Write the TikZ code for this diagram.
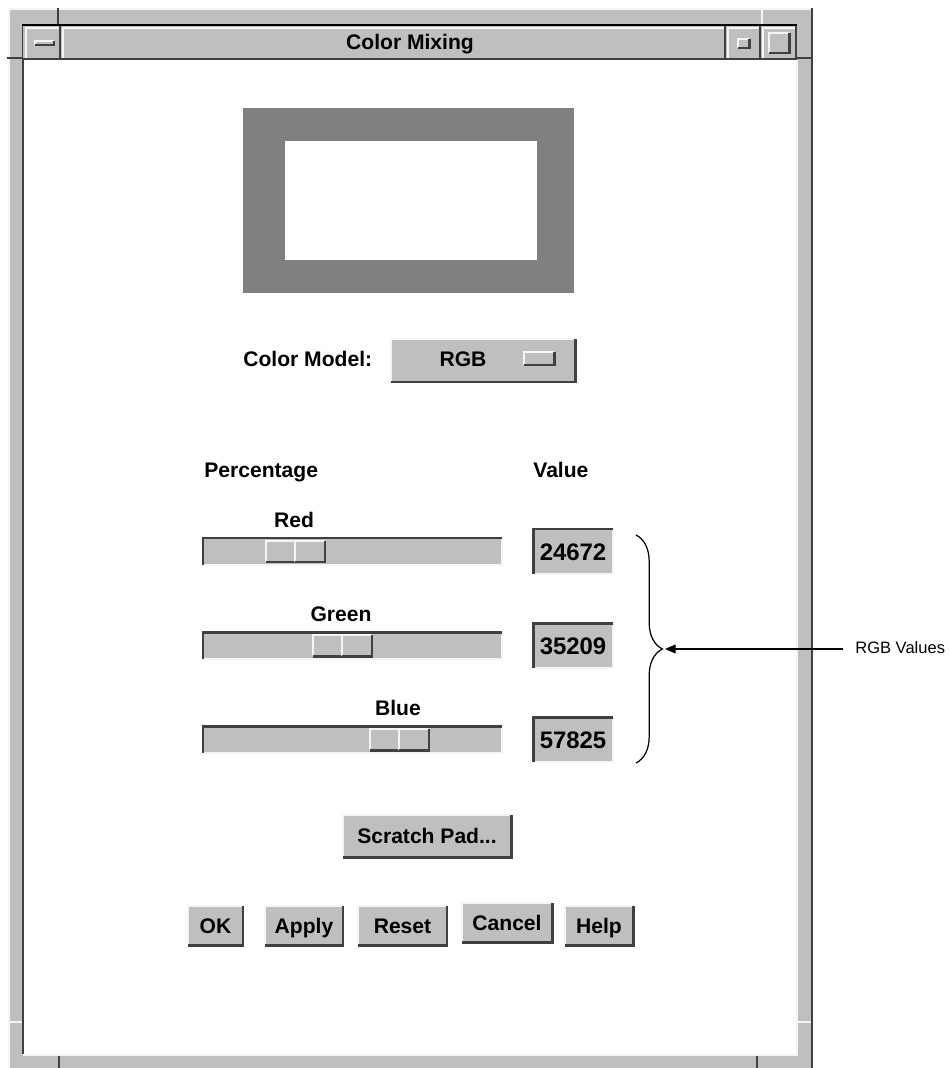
\documentclass[tikz,border=0pt]{standalone}
\usepackage{fontspec}
\setmainfont{Liberation Sans}
\usetikzlibrary{arrows.meta,decorations.pathreplacing}

\definecolor{guigray}{gray}{0.75}
\definecolor{guidark}{gray}{0.25}
\definecolor{guilight}{gray}{0.96}
\definecolor{swatch}{gray}{0.5}

\tikzset{
  lbl/.style={font=\fontsize{12}{14}\selectfont\bfseries, inner sep=0pt, anchor=base},
  numlbl/.style={font=\fontsize{13.6}{16}\selectfont\bfseries, inner sep=0pt, anchor=base},
  hiline/.style={draw=guilight, line width=1.1pt},
  loline/.style={draw=guidark, line width=1.7pt},
}

% raised widget: x1 y1 x2 y2
\newcommand{\guiraised}[4]{%
  \fill[guigray] (#1,#2) rectangle (#3,#4);
  \draw[hiline] (#1,#4) -- (#1,#2) -- (#3,#2);
  \draw[loline] (#1,#4) -- (#3,#4) -- (#3,#2);
}
% sunken widget: x1 y1 x2 y2
\newcommand{\guisunken}[4]{%
  \fill[guigray] (#1,#2) rectangle (#3,#4);
  \draw[hiline] (#1,#4) -- (#3,#4) -- (#3,#2);
  \draw[loline] (#1,#4) -- (#1,#2) -- (#3,#2);
}

\begin{document}
\begin{tikzpicture}[x=0.02cm, y=-0.02cm]
  \useasboundingbox (0,0) rectangle (949,1068);

  % window frame
  \fill[guigray] (9,8) rectangle (812,1068);
  \draw[guilight, line width=1pt] (9,1068) -- (9,9) -- (812,9);
  \draw[guidark, line width=1.5pt] (812,8) -- (812,1068);
  \fill[white] (24,60) rectangle (797,1054);
  \draw[guidark, line width=1.5pt] (23,1054) -- (23,25);
  \draw[guilight, line width=1pt] (23,1055) -- (797,1055) -- (797,60);
  \draw[guidark, line width=1.5pt]
       (58,8)--(58,25) (7,58)--(23,58) (797,58)--(813,58)
       (59,1056)--(59,1068) (757,1056)--(757,1068);
  \draw[guilight, line width=1pt]
       (762,8)--(762,25) (9,1022)--(22,1022) (798,1022)--(811,1022);

  % title bar
  \fill[guigray] (23,25) rectangle (797,60);
  \draw[black, line width=1pt] (22,25) -- (797,25);
  \draw[guidark, line width=1.5pt] (22,59) -- (797,59);
  \draw[guidark, line width=1.5pt] (60,26)--(60,59) (725,26)--(725,59)
       (760,26)--(760,59) (796,26)--(796,59);
  \draw[guilight, line width=1pt] (26,58)--(26,28)--(59,28)
       (63,58)--(63,28)--(724,28) (728,58)--(728,28)--(759,28)
       (763,58)--(763,28)--(795,28);
  \guiraised{35}{41}{54}{45}
  \guiraised{738}{39}{749}{48}
  \guiraised{769}{33}{789}{53}
  \node[lbl] (title) at (410,50) {Color Mixing};

  % colour preview
  \fill[swatch] (243,108) rectangle (574,293);
  \fill[white] (285,141) rectangle (537,260);

  % colour model
  \node[lbl, anchor=base west] (modellbl) at (243,366) {Color Model:};
  \guiraised{391}{339}{575}{382}
  \node[lbl] (modelval) at (463,366) {RGB};
  \guiraised{524}{352}{554}{365}

  \node[lbl, anchor=base west] (pctlbl) at (204,477) {Percentage};
  \node[lbl, anchor=base west] (vallbl) at (533,477) {Value};

  % sliders and values
  \foreach \name/\y/\tx/\val in {Red/538/266/24672, Green/632/313/35209,
                                 Blue/726/370/57825} {
    \guisunken{203}{\y}{502}{\y+27}
    \guiraised{\tx}{\y+3}{\tx+29}{\y+24}
    \guiraised{\tx+29}{\y+3}{\tx+59}{\y+24}
    \node[lbl] (lbl\name) at (\tx+28,\y-11) {\name};
    \guisunken{533}{\y-9}{613}{\y+36}
    \node[numlbl] (val\name) at (573,\y+22) {\val};
  }

  % brace and callout
  \draw[line width=0.7pt, decorate, decoration={brace, amplitude=15pt}]
       (636,535) -- (636,763);
  \coordinate (bracetip) at (665,649);
  \node[font=\fontsize{9.4}{11}\selectfont, anchor=base west, inner sep=0pt]
       (rgbvals) at (855,653) {RGB Values};
  \draw[line width=0.7pt, -{Triangle[length=6pt,width=5pt]}]
       (843,649) coordinate (calloutend) -- (bracetip);

  % push buttons
  \guiraised{343}{815}{511}{857}
  \node[lbl] (scratch) at (427,843) {Scratch Pad...};
  \foreach \a/\b/\t/\txt in {188/243/906/OK, 265/343/906/Apply, 358/447/906/Reset,
                             462/552/903/Cancel, 565/633/906/Help} {
    \guiraised{\a}{\t}{\b}{\t+39}
    \node[lbl] (btn\txt) at ({(\a+\b)/2},\t+27) {\txt};
  }
\end{tikzpicture}
\end{document}
